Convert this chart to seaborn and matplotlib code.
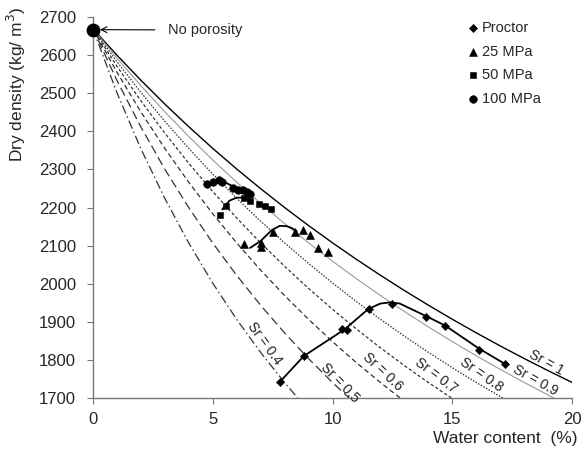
import matplotlib
matplotlib.use("Agg")
import matplotlib.pyplot as plt
import seaborn as sns

# saturation lines (water content %, dry density kg/m3)
w_sr10 = [0, 1, 2, 3, 4, 5, 6, 7, 8, 9, 10, 11, 12, 13, 14, 15, 16, 17, 18, 19, 20]
rho_sr10 = [2670, 2600.6, 2534.7, 2472.0, 2412.4, 2355.5, 2301.3, 2249.6, 2200.1, 2152.7, 2107.3,
            2063.8, 2022.1, 1982.0, 1943.5, 1906.5, 1870.8, 1836.4, 1803.3, 1771.4, 1740.5]
w_sr09 = [0, 1, 2, 3, 4, 5, 6, 7, 8, 9, 10, 11, 12, 13, 14, 15, 16, 17, 18, 19, 19.23]
rho_sr09 = [2670, 2593.1, 2520.5, 2451.8, 2386.8, 2325.1, 2266.6, 2210.9, 2157.9, 2107.3, 2059.1,
            2013.1, 1969.0, 1926.9, 1886.5, 1847.8, 1810.6, 1774.9, 1740.5, 1707.5, 1700]
w_sr08 = [0, 1, 2, 3, 4, 5, 6, 7, 8, 9, 10, 11, 12, 13, 14, 15, 16, 17, 17.1]
rho_sr08 = [2670, 2583.8, 2502.9, 2427.0, 2355.5, 2288.1, 2224.5, 2164.3, 2107.3, 2053.3, 2001.9,
            1953.0, 1906.5, 1862.1, 1819.7, 1779.3, 1740.5, 1703.5, 1700]
w_sr07 = [0, 1, 2, 3, 4, 5, 6, 7, 8, 9, 10, 11, 12, 13, 14, 14.96]
rho_sr07 = [2670, 2571.9, 2480.8, 2395.8, 2316.6, 2242.3, 2172.8, 2107.3, 2045.8, 1987.6, 1932.8,
            1880.9, 1831.6, 1784.9, 1740.5, 1700]
w_sr06 = [0, 1, 2, 3, 4, 5, 6, 7, 8, 9, 10, 11, 12, 12.82]
rho_sr06 = [2670, 2556.3, 2451.8, 2355.5, 2266.6, 2184.0, 2107.3, 2035.8, 1969.0, 1906.5, 1847.8,
            1792.5, 1740.5, 1700]
w_sr05 = [0, 1, 2, 3, 4, 5, 6, 7, 8, 9, 10, 10.69]
rho_sr05 = [2670, 2534.7, 2412.4, 2301.3, 2200.1, 2107.3, 2022.1, 1943.5, 1870.8, 1803.3, 1740.5, 1700]
w_sr04 = [0, 1, 2, 3, 4, 5, 6, 7, 8, 8.55]
rho_sr04 = [2670, 2502.9, 2355.5, 2224.5, 2107.3, 2001.9, 1906.5, 1819.7, 1740.5, 1700]

# measured compaction points
w_proctor = [7.8, 8.8, 10.4, 10.6, 11.5, 12.5, 13.9, 14.7, 16.1, 17.2]
rho_proctor = [1742, 1810, 1882, 1878, 1934, 1947, 1913, 1889, 1826, 1789]
w_25 = [6.3, 7.0, 7.0, 7.5, 8.45, 8.75, 9.05, 9.4, 9.8]
rho_25 = [2104, 2096, 2108, 2135, 2136, 2141, 2127, 2095, 2082]
w_50 = [5.3, 5.55, 6.3, 6.55, 6.95, 7.2, 7.45]
rho_50 = [2180, 2205, 2225, 2218, 2210, 2203, 2195]
w_100 = [4.75, 5.0, 5.25, 5.4, 5.85, 6.05, 6.25, 6.45, 6.55]
rho_100 = [2262, 2268, 2271, 2268, 2252, 2247, 2245, 2242, 2235]

# fitted compaction curves
w_proctor_fit = [7.8, 8.8, 10.5, 11.5, 12.0, 12.4, 12.8, 13.9, 14.7, 16.1, 17.2]
rho_proctor_fit = [1742, 1810, 1880, 1934, 1948, 1951, 1948, 1915, 1890, 1830, 1789]
w_25_fit = [6.56, 7.0, 7.47, 7.8, 8.1, 8.3, 8.5]
rho_25_fit = [2094, 2112, 2141, 2152, 2151, 2146, 2138]
w_50_fit = [5.4, 5.7, 6.0, 6.3, 6.6]
rho_50_fit = [2195, 2218, 2226, 2226, 2220]
w_100_fit = [4.8, 5.1, 5.4, 5.9, 6.5]
rho_100_fit = [2262, 2270, 2270, 2254, 2242]

sr_labels = ["Sr = 0.4", "Sr = 0.5", "Sr = 0.6", "Sr = 0.7", "Sr = 0.8", "Sr = 0.9", "Sr = 1"]
sr_label_x = [7.18, 10.3, 12.1, 14.3, 16.2, 18.45, 18.9]
sr_label_y = [1844, 1740, 1768, 1760, 1760, 1747, 1794]
sr_label_rot = [-54, -46, -43, -37, -35, -29, -29]

sns.set_style("white")
plt.rcParams["font.family"] = ["Liberation Sans", "DejaVu Sans"]

fig = plt.figure(figsize=(5.87, 4.5), dpi=100)
ax = fig.add_axes([0.158, 0.1156, 0.817, 0.8464])

lines = [
    (w_sr10, rho_sr10, "-", "black", 1.0),
    (w_sr09, rho_sr09, "-", "#9a9a9a", 0.8),
    (w_sr08, rho_sr08, (0, (1.2, 1.2)), "#333333", 0.9),
    (w_sr07, rho_sr07, (0, (2.5, 1.8)), "#333333", 0.9),
    (w_sr06, rho_sr06, (0, (4, 2.5)), "#333333", 0.9),
    (w_sr05, rho_sr05, (0, (7, 3.5)), "#333333", 0.9),
    (w_sr04, rho_sr04, (0, (7, 2.5, 1.2, 2.5)), "#333333", 0.9),
]
for xs, ys, ls, col, lw in lines:
    sns.lineplot(x=xs, y=ys, ax=ax, color=col, linestyle=ls, linewidth=lw,
                 sort=False, estimator=None)

for xs, ys in [(w_proctor_fit, rho_proctor_fit), (w_25_fit, rho_25_fit),
               (w_50_fit, rho_50_fit), (w_100_fit, rho_100_fit)]:
    sns.lineplot(x=xs, y=ys, ax=ax, color="black", linewidth=1.3, sort=False, estimator=None)

sns.scatterplot(x=w_proctor, y=rho_proctor, ax=ax, marker="D", s=18, color="black",
                edgecolor="black", label="Proctor", zorder=5)
sns.scatterplot(x=w_25, y=rho_25, ax=ax, marker="^", s=32, color="black",
                edgecolor="black", label="25 MPa", zorder=5)
sns.scatterplot(x=w_50, y=rho_50, ax=ax, marker="s", s=24, color="black",
                edgecolor="black", label="50 MPa", zorder=5)
sns.scatterplot(x=w_100, y=rho_100, ax=ax, marker="o", s=30, color="black",
                edgecolor="black", label="100 MPa", zorder=5)

ax.scatter([0], [2667], s=80, color="black", zorder=6, clip_on=False)
ax.annotate("No porosity", xy=(0.3, 2667), xytext=(3.13, 2666), fontsize=10.5,
            ha="left", va="center",
            arrowprops=dict(arrowstyle="->", color="black", lw=0.8, shrinkA=7, shrinkB=0))

for txt, x, y, r in zip(sr_labels, sr_label_x, sr_label_y, sr_label_rot):
    ax.text(x, y, txt, rotation=r, rotation_mode="anchor", ha="center", va="center",
            fontsize=10, color="#222222")

ax.set_xlim(0, 20)
ax.set_ylim(1700, 2700)
ax.set_xticks([0, 5, 10, 15, 20])
ax.set_yticks(range(1700, 2701, 100))
ax.tick_params(axis="both", labelsize=12, length=4, width=0.8, color="#777777",
               direction="out", bottom=True, left=True)
ax.tick_params(axis="y", pad=8)
ax.tick_params(axis="x", pad=6)
for side in ["top", "right"]:
    ax.spines[side].set_visible(False)
for side in ["left", "bottom"]:
    ax.spines[side].set_color("#777777")
    ax.spines[side].set_linewidth(1.0)

ax.set_xlabel("Water content  (%)", fontsize=12.5, ha="right")
ax.xaxis.set_label_coords(1.01, -0.087)
ax.set_ylabel("Dry density (kg/ m$^3$)", fontsize=12.5)
ax.yaxis.set_label_coords(-0.134, 0.824)

ax.legend(loc="upper left", bbox_to_anchor=(0.757, 1.013), frameon=False, fontsize=10.5,
          handletextpad=0.0, labelspacing=0.66, handlelength=1.2, borderaxespad=0.2)

plt.savefig("out.png", dpi=100)
